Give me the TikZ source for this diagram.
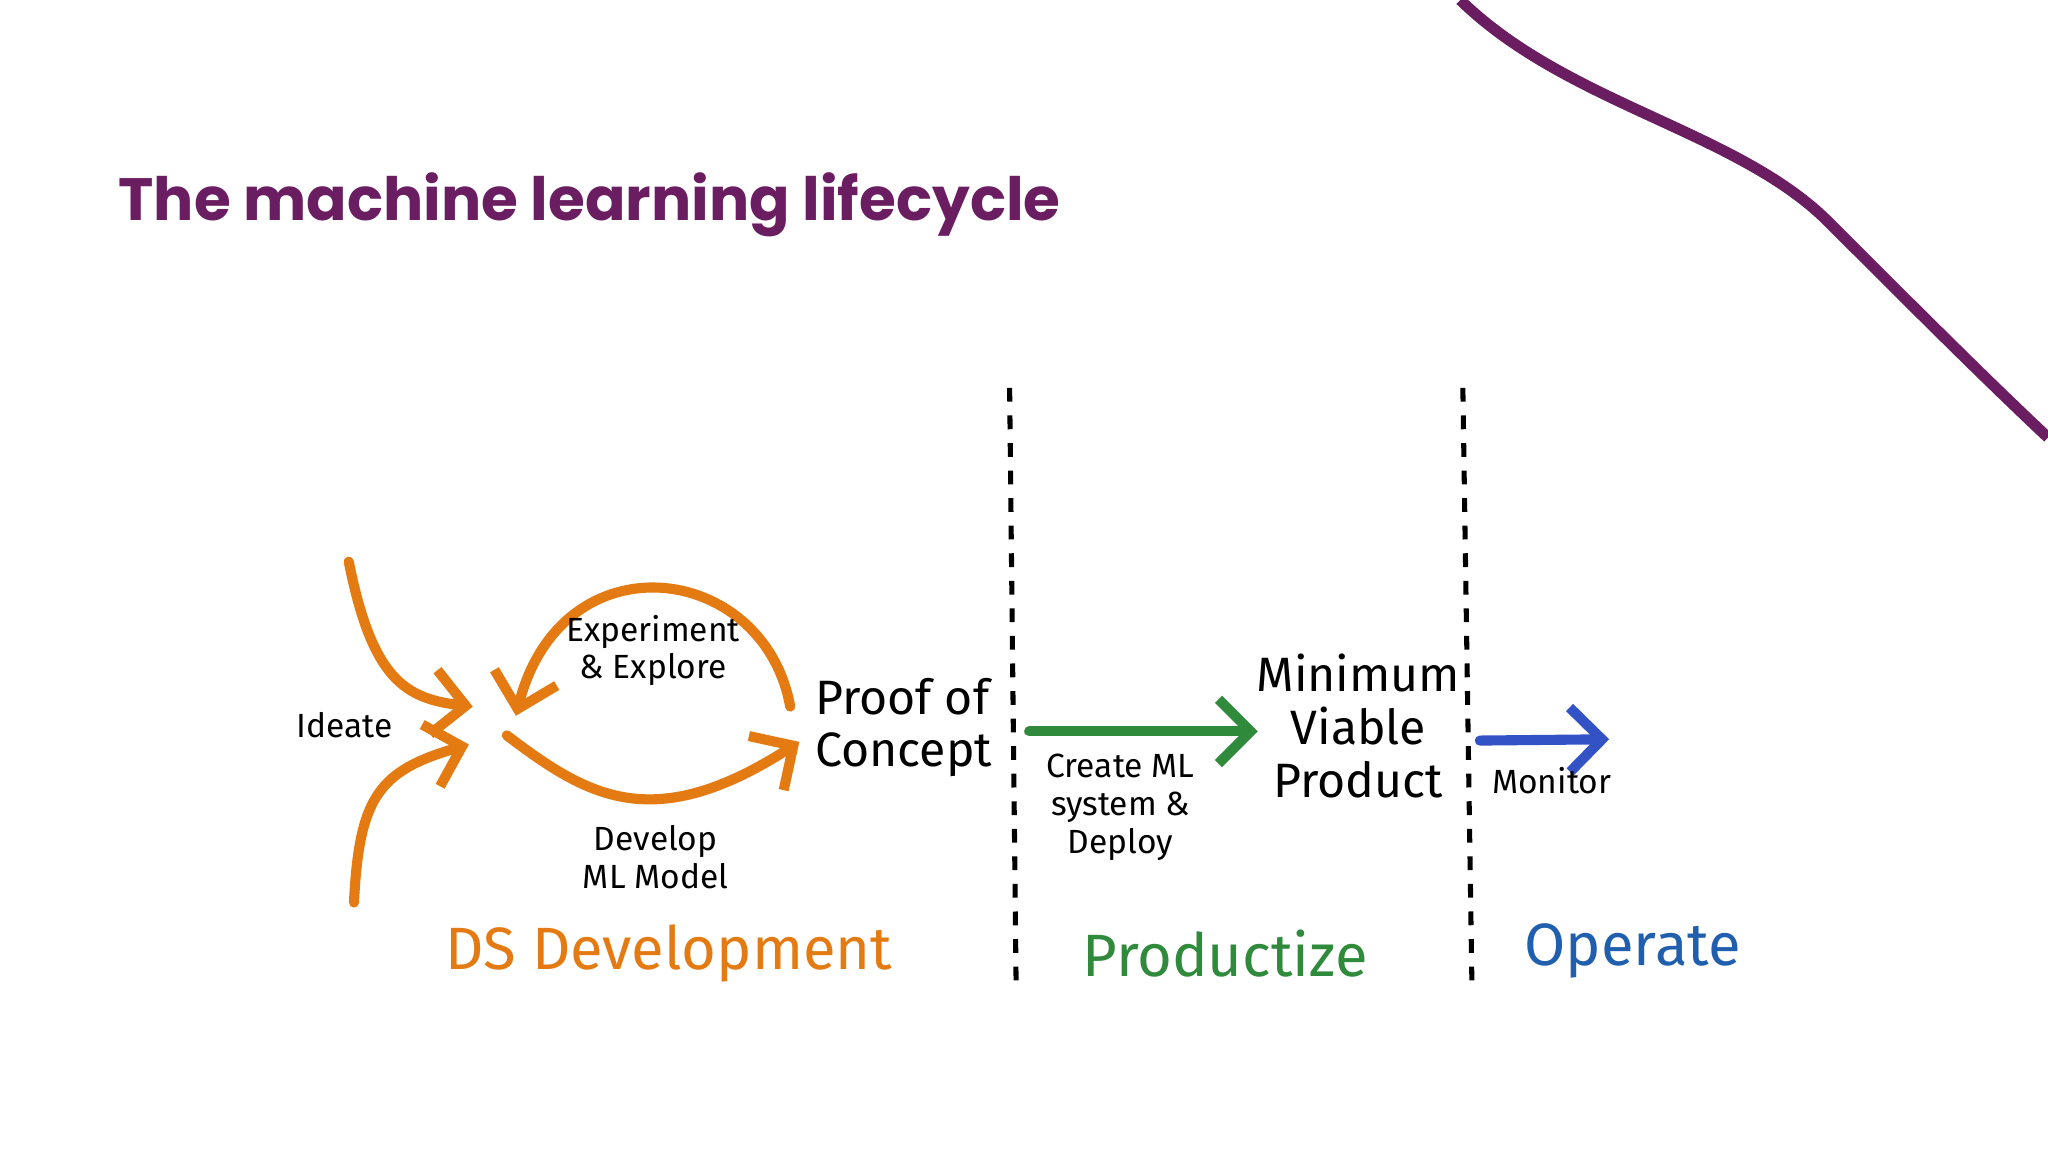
\documentclass[tikz,border=0pt]{standalone}
\usepackage{fontspec}
\setmainfont{Fira Sans}
\newfontfamily\titlefont{Poppins}
\usetikzlibrary{arrows.meta}
\definecolor{purp}{HTML}{6B1D62}
\definecolor{orng}{HTML}{E37B12}
\definecolor{grn}{HTML}{2F8A3C}
\definecolor{blu}{HTML}{3352C6}
\definecolor{opblu}{HTML}{1F5FAE}
\tikzset{
  hand/.style={line width=2.2pt, line cap=round, -{Straight Barb[length=7pt,width=14pt,line width=2.2pt]}},
  lbl/.style={font=\fontsize{7.3}{8.2}\selectfont, align=center, text=black},
  big/.style={font=\fontsize{10.5}{11.5}\selectfont, align=left, text=black},
  phase/.style={font=\fontsize{13}{14}\selectfont},
  sep/.style={dashed, line width=1.1pt}
}
\begin{document}
\begin{tikzpicture}[x=0.01cm,y=-0.01cm]
\useasboundingbox[fill=white] (0,0) rectangle (1568,882);
% decorative curve
\draw[purp, line width=2.4pt] (1118,0) .. controls (1200,80) and (1330,100) .. (1400,170) .. controls (1460,230) and (1520,290) .. (1568,335);
\node[anchor=west, text=purp, font=\titlefont\fontsize{13}{15}\selectfont\bfseries, inner sep=0pt] (title) at (90,157) {The machine learning lifecycle};
% separators
\coordinate (s1a) at (773,297); \coordinate (s1b) at (778,757);
\coordinate (s2a) at (1120,297); \coordinate (s2b) at (1127,757);
\draw[sep] (s1a) -- (s1b);
\draw[sep] (s2a) -- (s2b);
% ideate
\coordinate (i1) at (267,430); \coordinate (i1e) at (362,541);
\coordinate (i2) at (271,691); \coordinate (i2e) at (359,570);
\draw[hand, orng] (i1) .. controls (285,520) and (310,535) .. (i1e);
\draw[hand, orng] (i2) .. controls (275,610) and (290,590) .. (i2e);
\node[lbl] (ideate) at (264,555) {Ideate};
% experiment loop
\coordinate (e1) at (605,541); \coordinate (e1e) at (395,548);
\draw[hand, orng] (e1) .. controls (585,430) and (430,410) .. (e1e);
\node[lbl] (exp) at (500,498) {Experiment\\\& Explore};
% develop
\coordinate (d1) at (388,563); \coordinate (d1e) at (612,568);
\draw[hand, orng] (d1) .. controls (450,610) and (500,640) .. (d1e);
\node[lbl] (dev) at (502,656) {Develop\\ML Model};
\node[big] (poc) at (692,557) {Proof of\\Concept};
% productize
\coordinate (g1) at (788,560); \coordinate (g1e) at (963,560);
\draw[hand, grn] (g1) -- (g1e);
\node[lbl] (cml) at (858,618) {Create ML\\system \&\\Deploy};
\node[big, align=center] (mvp) at (1040,556) {Minimum\\Viable\\Product};
% operate
\coordinate (b1) at (1133,567); \coordinate (b1e) at (1232,566);
\draw[hand, blu] (b1) -- (b1e);
\node[lbl] (mon) at (1188,598) {Monitor};
% phases
\node[phase, text=orng] (pds) at (512,730) {DS Development};
\node[phase, text=grn] (pprod) at (938,730) {Productize};
\node[phase, text=opblu] (pop) at (1250,728) {Operate};
\end{tikzpicture}
\end{document}
